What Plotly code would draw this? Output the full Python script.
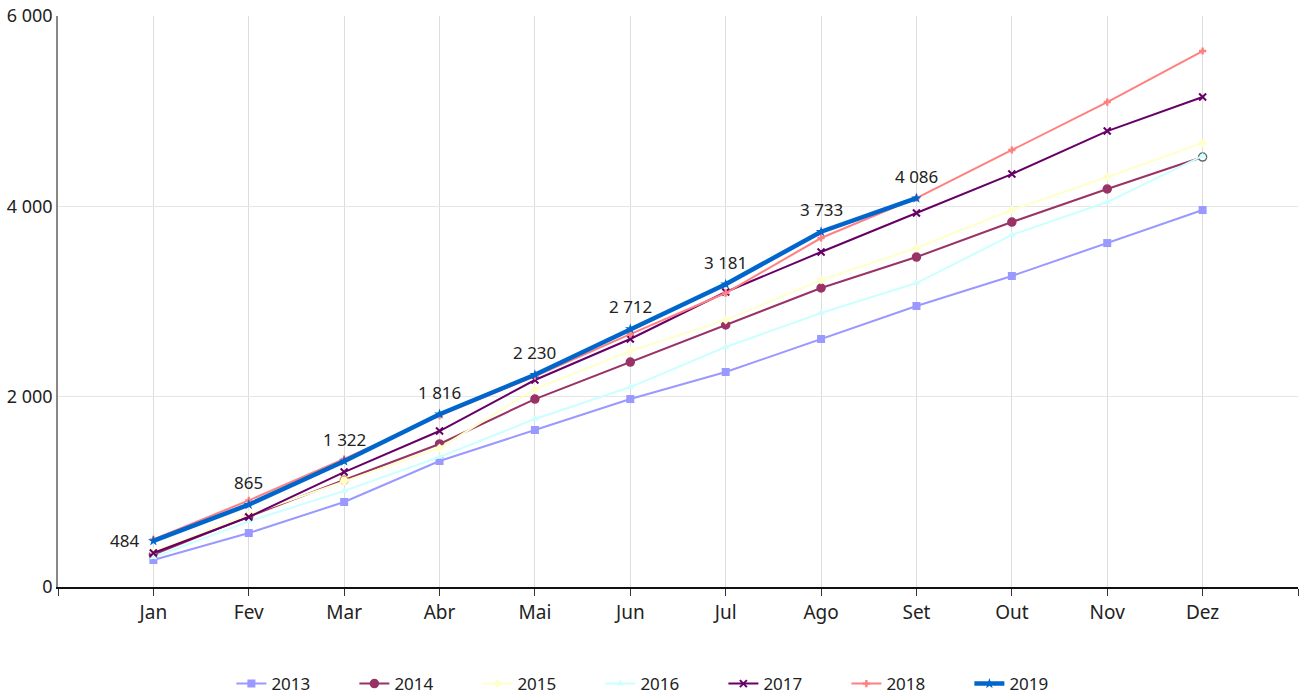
import plotly.graph_objects as go

months = ["Jan", "Fev", "Mar", "Abr", "Mai", "Jun", "Jul", "Ago", "Set", "Out", "Nov", "Dez"]

y2013 = [284, 567, 893, 1324, 1650, 1975, 2259, 2606, 2953, 3268, 3614, 3961]
y2014 = [340, 740, 1124, 1503, 1975, 2364, 2753, 3142, 3467, 3835, 4182, 4518]
y2015 = [370, 760, 1110, 1460, 2080, 2480, 2805, 3226, 3562, 3961, 4308, 4665]
y2016 = [310, 690, 1010, 1366, 1765, 2101, 2522, 2879, 3194, 3699, 4045, 4530]
y2017 = [357, 736, 1208, 1639, 2175, 2606, 3100, 3520, 3930, 4339, 4791, 5149]
y2018 = [500, 910, 1345, 1800, 2215, 2658, 3089, 3667, 4086, 4592, 5096, 5632]
y2019 = [484, 865, 1322, 1816, 2230, 2712, 3181, 3733, 4086]

series = [
    ("2013", y2013, "#9999FF", "square", 2, 8),
    ("2014", y2014, "#993366", "circle", 2, 8),
    ("2015", y2015, "#FFFFCC", "diamond", 2, 7),
    ("2016", y2016, "#CCFFFF", "triangle-up", 2, 7),
    ("2017", y2017, "#660066", "x-thin-open", 2, 7),
    ("2018", y2018, "#FF8080", "cross", 2, 6),
    ("2019", y2019, "#0066CC", "star", 4.5, 8),
]

fig = go.Figure()
for name, vals, color, symbol, width, msize in series:
    x = list(range(len(vals)))
    marker = dict(symbol=symbol, size=msize, color=color,
                  line=dict(color=color, width=2 if "open" in symbol else 0))
    if name == "2014":
        # two highlighted (open) points in the original
        fills = [color] * len(vals)
        edges = [color] * len(vals)
        fills[2], edges[2] = "white", "#E0A050"
        fills[11], edges[11] = "white", "#666666"
        marker = dict(symbol=symbol, size=msize, color=fills,
                      line=dict(color=edges, width=1.5))
    fig.add_trace(go.Scatter(
        x=x, y=vals, name=name, mode="lines+markers",
        line=dict(color=color, width=width),
        marker=marker, cliponaxis=False,
    ))

# value labels on the 2019 line
for i, v in enumerate(y2019):
    fig.add_annotation(
        x=i, y=v, text=f"{v:,}".replace(",", " "), showarrow=False,
        xshift=-29 if i == 0 else 0, yshift=0 if i == 0 else 22,
        font=dict(size=17, color="#222222"),
    )

fig.update_layout(
    width=1303, height=700,
    paper_bgcolor="white", plot_bgcolor="white",
    font=dict(family="Noto Sans, DejaVu Sans, sans-serif", size=17, color="#222222"),
    margin=dict(l=58, r=5, t=16, b=113, autoexpand=False),
    separators=", ",
    showlegend=True,
    legend=dict(
        orientation="h", x=0.487, xanchor="center", y=-0.17, yanchor="middle",
        font=dict(size=17), entrywidth=78, bgcolor="rgba(0,0,0,0)",
        traceorder="normal",
    ),
)
fig.update_xaxes(
    range=[-1, 12], tickmode="array",
    tickvals=list(range(-1, 13)), ticktext=[""] + months + [""],
    showgrid=True, gridcolor="#dddddd", gridwidth=1,
    showline=True, linecolor="#111111", linewidth=2,
    ticks="outside", ticklen=7, tickcolor="#333333", zeroline=False,
    tickfont=dict(size=19), automargin=False,
)
fig.update_yaxes(
    range=[0, 6000], tickvals=[0, 2000, 4000, 6000], tickformat=",d",
    showgrid=True, gridcolor="#e6e6e6",
    showline=True, linecolor="#888888", linewidth=1.5,
    ticks="", zeroline=False, tickfont=dict(size=18), automargin=False,
    ticklabeloverflow="allow",
)

# drop the browser's default 8px body margin so the figure fills the window
fig.write_html("out.html", config={"displayModeBar": False},
               post_script="document.body.style.margin='0';")
